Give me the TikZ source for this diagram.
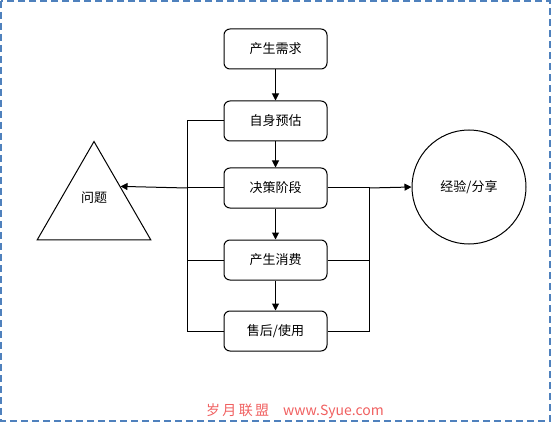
\documentclass[tikz,border=0pt]{standalone}
\usepackage{fontspec}
\setmainfont{Noto Sans CJK SC}
\newfontfamily\markfont{Noto Sans CJK SC}
\usepackage{tikz}
\usetikzlibrary{positioning, arrows.meta, shapes.geometric, calc}
\usepackage{xcolor}
\definecolor{frameblue}{HTML}{4F81BD}
\definecolor{markred}{HTML}{F06060}

\begin{document}
\begin{tikzpicture}[x=1pt, y=1pt,
    stage/.style={draw, line width=1pt, rounded corners=6pt, minimum width=103pt, minimum height=40pt, align=center, font=\fontsize{13}{15}\selectfont},
    arr/.style={-{Triangle[length=7pt, width=7pt]}, line width=1pt},
    bus/.style={line width=1pt},
    every node/.style={inner sep=0pt}
]
\useasboundingbox (0,0) rectangle (551,-422);
\draw[frameblue, line width=1.6pt, dash pattern=on 7pt off 4pt] (1,-1) rectangle (550,-421);

% Stages
\node[stage] (need) at (275.5,-49) {产生需求};
\node[stage, below=31pt of need] (self) {自身预估};
\node[stage, below=26pt of self] (decide) {决策阶段};
\node[stage, below=31pt of decide] (consume) {产生消费};
\node[stage, below=30pt of consume] (after) {售后/使用};

\foreach \a/\b in {need/self, self/decide, decide/consume, consume/after} {
    \draw[arr] (\a.south) -- (\b.north);
}

% Problem and experience
\node[draw, line width=1pt, regular polygon, regular polygon sides=3, minimum size=131pt] (problem) at (94,-207) {};
\node[font=\fontsize{13}{15}\selectfont] (problemtxt) at (94,-198) {问题};
\node[draw, line width=1pt, circle, minimum size=114pt, font=\fontsize{13}{15}\selectfont] (share) at (469,-187) {经验/分享};

% Side buses
\coordinate (lbus) at (187,0);
\coordinate (rbus) at (369,0);
\draw[bus] (self.west) -- (self.west -| lbus) -- (after.west -| lbus) -- (after.west);
\draw[bus] (decide.west) -- (decide.west -| lbus);
\draw[bus] (consume.west) -- (consume.west -| lbus);
\draw[bus] (decide.east) -- (decide.east -| rbus) -- (after.east -| rbus) -- (after.east);
\draw[bus] (consume.east) -- (consume.east -| rbus);

% Outputs
\draw[arr] (decide.west -| lbus) -- ($(problem.corner 1)!0.46!(problem.corner 3)$);
\draw[arr] (decide.east -| rbus) -- (share.west);

% Mark
\node[text=markred, font=\markfont\fontsize{14}{16}\selectfont] (mark) at (295,-411) {岁\,月\,联\,盟\quad www.Syue.com};
\end{tikzpicture}
\end{document}
